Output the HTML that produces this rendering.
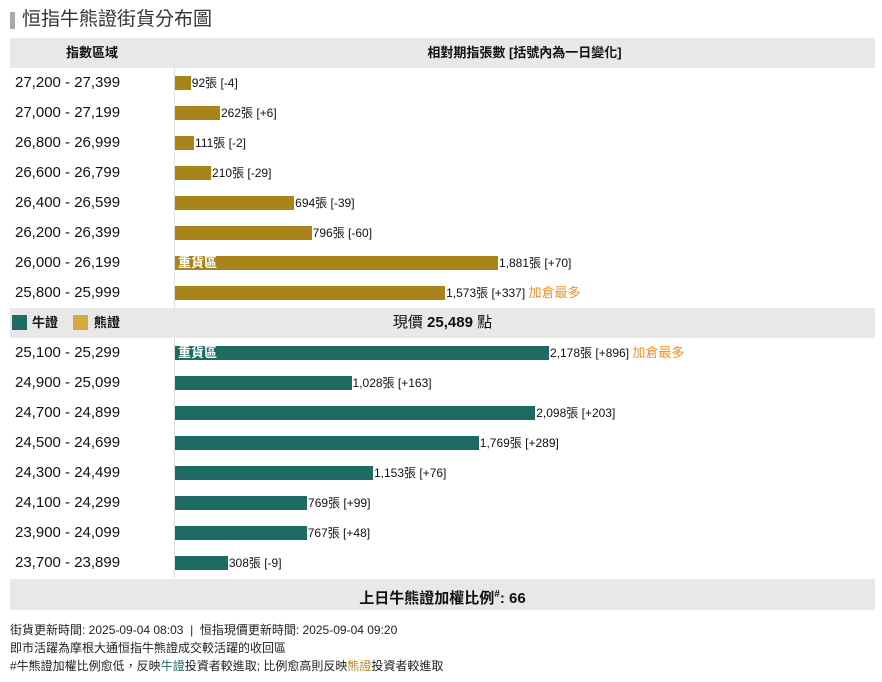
<!DOCTYPE html>
<html><head><meta charset="utf-8">
<style>
body{margin:0;background:#fff;font-family:"Liberation Sans","Noto Sans CJK TC",sans-serif;color:#111;}
#wrap{position:relative;width:882px;height:682px;overflow:hidden;}
.title{position:absolute;left:10px;top:9px;height:22px;font-size:19px;color:#333;padding-left:12px;line-height:22px;}
.title:before{content:"";position:absolute;left:0;top:3px;width:5px;height:17px;background:#aaa;}
.hdr{position:absolute;left:10px;width:865px;background:#e8e8e8;font-weight:bold;font-size:13px;}
.row{position:absolute;left:10px;width:865px;height:30px;}
.lab{position:absolute;left:5px;top:0;line-height:30px;font-size:15px;}
.bar{position:absolute;left:165px;top:8px;height:14px;}
.val{position:absolute;top:0;line-height:30px;font-size:12px;white-space:nowrap;}
.hot{color:#f0922b;font-size:13px;}
.inbar{position:absolute;left:3px;top:0;line-height:14px;color:#fff;font-weight:bold;font-size:13px;}
.foot{position:absolute;left:10px;font-size:12px;color:#222;}
</style></head><body>
<div id="wrap">
<div class="title">恒指牛熊證街貨分布圖</div>
<div class="hdr" style="top:38px;height:30px;line-height:30px;">
 <span style="position:absolute;left:0;width:164px;text-align:center;">指數區域</span>
 <span style="position:absolute;left:164px;width:701px;text-align:center;">相對期指張數 [括號內為一日變化]</span>
</div>
<div style="position:absolute;left:174px;top:68px;width:1px;height:510px;background:#ddd;"></div>
<div class="hdr" style="top:308px;height:30px;line-height:30px;">
 <span style="position:absolute;left:2px;top:7px;width:15px;height:15px;background:#1e6b63;"></span>
 <span style="position:absolute;left:22px;">牛證</span>
 <span style="position:absolute;left:63px;top:7px;width:15px;height:15px;background:#d4aa3f;"></span>
 <span style="position:absolute;left:84px;">熊證</span>
 <span style="position:absolute;left:164px;width:537px;text-align:center;font-size:15px;font-weight:normal;">現價 <b>25,489</b> 點</span>
</div>
<div class="hdr" style="top:579px;height:31px;line-height:31px;font-size:15px;">
 <span style="position:absolute;left:164px;width:537px;text-align:center;">上日牛熊證加權比例<sup style="font-size:10px">#</sup>: 66</span>
</div>
<div class="foot" style="top:621px;">街貨更新時間: 2025-09-04 08:03 &nbsp;|&nbsp; 恒指現價更新時間: 2025-09-04 09:20</div>
<div class="foot" style="top:639px;">即市活躍為摩根大通恒指牛熊證成交較活躍的收回區</div>
<div class="foot" style="top:657px;">#牛熊證加權比例愈低，反映<span style="color:#1e6b63">牛證</span>投資者較進取; 比例愈高則反映<span style="color:#b8902a">熊證</span>投資者較進取</div>
</div>
<script>
const bearRanges=["27,200 - 27,399","27,000 - 27,199","26,800 - 26,999","26,600 - 26,799","26,400 - 26,599","26,200 - 26,399","26,000 - 26,199","25,800 - 25,999"];
const bearCounts=[92,262,111,210,694,796,1881,1573];
const bearChanges=["-4","+6","-2","-29","-39","-60","+70","+337"];
const bullRanges=["25,100 - 25,299","24,900 - 25,099","24,700 - 24,899","24,500 - 24,699","24,300 - 24,499","24,100 - 24,299","23,900 - 24,099","23,700 - 23,899"];
const bullCounts=[2178,1028,2098,1769,1153,769,767,308];
const bullChanges=["+896","+163","+203","+289","+76","+99","+48","-9"];
const pxPerUnit=374/2178;
function xScale(v){return v*pxPerUnit;}
const wrap=document.getElementById('wrap');
function fmt(n){return n.toLocaleString('en-US');}
function build(ranges,counts,changes,top,color,kind){
  const maxI=counts.indexOf(Math.max(...counts));
  let maxCh=-1e9,maxChI=0;
  changes.forEach((c,i)=>{const v=parseInt(c);if(v>maxCh){maxCh=v;maxChI=i;}});
  ranges.forEach((r,i)=>{
    const row=document.createElement('div');
    
    
    row.className='row';row.style.top=(top+i*30)+'px';
    const lab=document.createElement('div');
    
    
    lab.className='lab';lab.textContent=r;row.appendChild(lab);
    const w=xScale(counts[i]);
    const bar=document.createElement('div');
    
    
    bar.className='bar';bar.style.width=w+'px';bar.style.background=color;
    if(i===maxI){const t=document.createElement('span');t.className='inbar';t.textContent='重貨區';
      
      
      bar.appendChild(t);}
    row.appendChild(bar);
    const val=document.createElement('div');
    
    
    val.className='val';val.style.left=(165+w+1)+'px';
    val.innerHTML=fmt(counts[i])+'張 ['+changes[i]+']'+(i===maxChI?' <span class="hot">加倉最多</span>':'');
    row.appendChild(val);
    wrap.appendChild(row);
  });
}
build(bearRanges,bearCounts,bearChanges,68,'#a8841a','bear');
build(bullRanges,bullCounts,bullChanges,338,'#1e6b63','bull');
</script>
</body></html>
